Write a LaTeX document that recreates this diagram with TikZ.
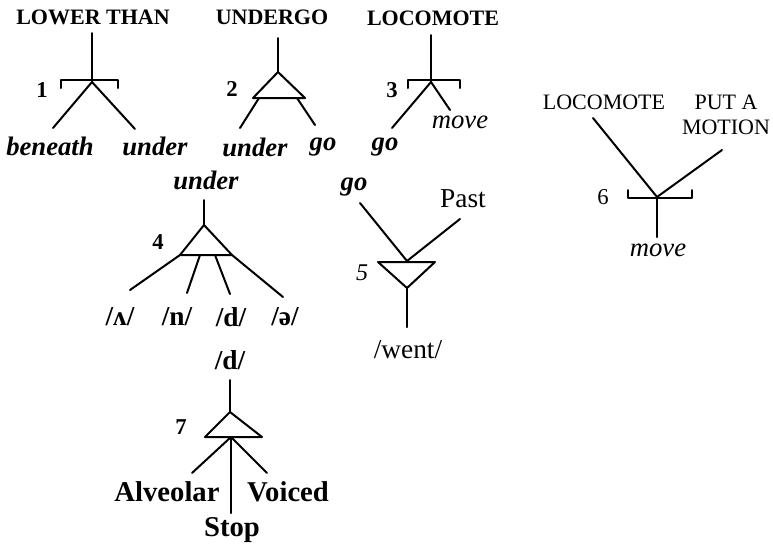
\documentclass[tikz,border=0pt]{standalone}
\usepackage{fontspec}
\setmainfont{Liberation Serif}
\begin{document}
\begin{tikzpicture}[x=0.75pt,y=-0.75pt,
  br/.style={line width=1.5pt, line cap=round, line join=round},
  capb/.style={font=\fontsize{16.5}{18}\selectfont\bfseries, inner sep=0pt},
  capr/.style={font=\fontsize{16.5}{19}\selectfont, inner sep=0pt, align=center},
  itb/.style={font=\fontsize{20}{22}\selectfont\bfseries\itshape, inner sep=0pt},
  itr/.style={font=\fontsize{20}{22}\selectfont\itshape, inner sep=0pt},
  rom/.style={font=\fontsize{20.5}{22}\selectfont, inner sep=0pt},
  romb/.style={font=\fontsize{20.5}{22}\selectfont\bfseries, inner sep=0pt},
  num/.style={font=\fontsize{17}{19}\selectfont\bfseries, inner sep=0pt},
  numr/.style={font=\fontsize{17}{19}\selectfont, inner sep=0pt},
  numi/.style={font=\fontsize{18}{20}\selectfont\itshape, inner sep=0pt}]
\useasboundingbox (0,0) rectangle (773,544);

% --- 1: LOWER THAN -> beneath / under
\node[capb] (lt) at (93,17) {LOWER THAN};
\node[num] (n1) at (42,90) {1};
\node[itb] (beneath) at (50,146) {beneath};
\node[itb] (under1) at (155,146) {under};
\coordinate (t1) at (92,33);
\coordinate (j1) at (92,82);
\coordinate (e1a) at (53,128);
\coordinate (e1b) at (135,129);
\draw[br] (t1) -- (j1);
\draw[br] ([shift={(-31,6)}]j1) -- ++(0,-8) -- ++(57,0) -- ++(0,8);
\draw[br] (j1) -- (e1a);
\draw[br] (j1) -- (e1b);

% --- 2: UNDERGO -> under / go
\node[capb] (ug) at (272,17) {UNDERGO};
\node[num] (n2) at (232,89) {2};
\node[itb] (under2) at (255,147) {under};
\node[itb] (go2) at (323,147) {go};
\coordinate (t2) at (278,38);
\coordinate (a2) at (278,72);
\coordinate (l2) at (253,98);
\coordinate (r2) at (305,98);
\coordinate (s2a) at (259,98);
\coordinate (s2b) at (297,98);
\coordinate (e2a) at (240,128);
\coordinate (e2b) at (315,125);
\draw[br] (t2) -- (a2);
\draw[br] (a2) -- (l2) -- (r2) -- cycle;
\draw[br] (s2a) -- (e2a);
\draw[br] (s2b) -- (e2b);

% --- 3: LOCOMOTE -> go / move
\node[capb] (lc) at (433,18) {LOCOMOTE};
\node[num] (n3) at (392,90) {3};
\node[itr] (move3) at (460,122) {move};
\node[itb] (go3) at (385,147) {go};
\coordinate (t3) at (431,35);
\coordinate (j3) at (431,82);
\coordinate (e3a) at (392,128);
\coordinate (e3b) at (450,110);
\draw[br] (t3) -- (j3);
\draw[br] ([shift={(-23,6)}]j3) -- ++(0,-8) -- ++(52,0) -- ++(0,8);
\draw[br] (j3) -- (e3a);
\draw[br] (j3) -- (e3b);

% --- 4: under -> phonemes
\node[itb] (under4) at (206,180) {under};
\node[num] (n4) at (158,242) {4};
\node[romb] (p1) at (120,317) {/ʌ/};
\node[romb] (p2) at (177,317) {/n/};
\node[romb] (p3) at (231,317) {/d/};
\node[romb] (p4) at (285,317) {/ə/};
\coordinate (t4) at (204,200);
\coordinate (a4) at (204,225);
\coordinate (l4) at (180,255);
\coordinate (r4) at (232,255);
\coordinate (s4b) at (200,255);
\coordinate (s4c) at (215,255);
\coordinate (e4a) at (130,290);
\coordinate (e4b) at (187,293);
\coordinate (e4c) at (230,294);
\coordinate (e4d) at (283,297);
\draw[br] (t4) -- (a4);
\draw[br] (a4) -- (l4) -- (r4) -- cycle;
\draw[br] (l4) -- (e4a);
\draw[br] (s4b) -- (e4b);
\draw[br] (s4c) -- (e4c);
\draw[br] (r4) -- (e4d);

% --- 5: go + Past -> went
\node[itb] (go5) at (354,187) {go};
\node[rom] (past) at (463,199) {Past};
\node[numi] (n5) at (362,273) {5};
\node[rom] (went) at (408,350) {/went/};
\coordinate (e5a) at (360,203);
\coordinate (e5b) at (460,219);
\coordinate (j5) at (407,261);
\coordinate (l5) at (378,262);
\coordinate (r5) at (435,262);
\coordinate (a5) at (407,288);
\coordinate (b5) at (407,327);
\draw[br] (e5a) -- (j5);
\draw[br] (e5b) -- (j5);
\draw[br] (l5) -- (r5) -- (a5) -- cycle;
\draw[br] (a5) -- (b5);

% --- 6: LOCOMOTE + PUT A MOTION -> move
\node[capr] (lc6) at (604,102) {LOCOMOTE};
\node[capr] (pm) at (726,115) {PUT A\\MOTION};
\node[numr] (n6) at (603,197) {6};
\node[itr] (move6) at (658,250) {move};
\coordinate (e6a) at (593,118);
\coordinate (e6b) at (722,150);
\coordinate (j6) at (657,197);
\coordinate (b6) at (657,237);
\draw[br] (e6a) -- (j6);
\draw[br] (e6b) -- (j6);
\draw[br] ([shift={(-29,-7)}]j6) -- ++(0,8) -- ++(64,0) -- ++(0,-8);
\draw[br] (j6) -- (b6);

% --- 7: /d/ -> features
\node[romb] (d7) at (230,360) {/d/};
\node[num] (n7) at (181,427) {7};
\node[romb,font=\fontsize{21.5}{23}\selectfont\bfseries] (alv) at (167,492) {Alveolar};
\node[romb,font=\fontsize{21.5}{23}\selectfont\bfseries] (voi) at (288,492) {Voiced};
\node[romb,font=\fontsize{21.5}{23}\selectfont\bfseries] (stop) at (232,530) {Stop};
\coordinate (t7) at (230,380);
\coordinate (a7) at (230,412);
\coordinate (l7) at (205,437);
\coordinate (r7) at (262,437);
\coordinate (m7) at (231,437);
\coordinate (e7a) at (192,473);
\coordinate (e7b) at (267,473);
\coordinate (e7c) at (231,513);
\draw[br] (t7) -- (a7);
\draw[br] (a7) -- (l7) -- (r7) -- cycle;
\draw[br] (m7) -- (e7a);
\draw[br] (m7) -- (e7b);
\draw[br] (m7) -- (e7c);
\end{tikzpicture}
\end{document}
